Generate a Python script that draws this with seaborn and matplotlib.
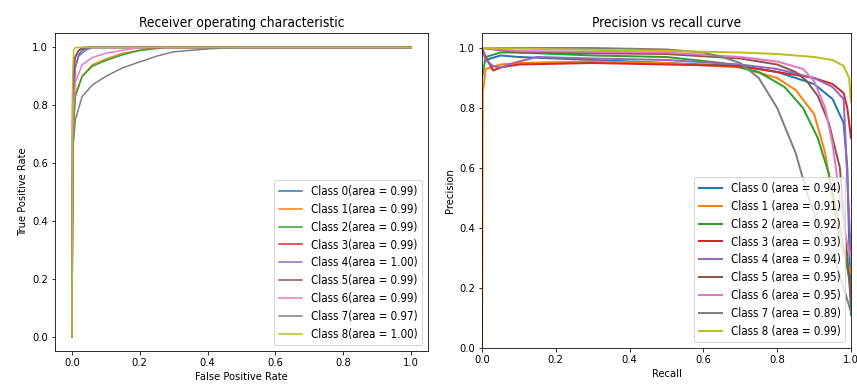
import matplotlib
matplotlib.use("Agg")
import matplotlib.pyplot as plt
from matplotlib import font_manager as fm
import seaborn as sns

roc_auc = [0.99, 0.99, 0.99, 0.99, 1.00, 0.99, 0.99, 0.97, 1.00]
pr_auc = [0.94, 0.91, 0.92, 0.93, 0.94, 0.95, 0.95, 0.89, 0.99]

# ROC curves: false positive rate / true positive rate per class
roc_fpr = [
    [0, 0.002, 0.005, 0.01, 0.02, 0.03, 0.05, 1.0],
    [0, 0.003, 0.01, 0.03, 0.06, 0.10, 0.15, 0.20, 0.25, 1.0],
    [0, 0.003, 0.01, 0.03, 0.06, 0.10, 0.15, 0.20, 0.28, 1.0],
    [0, 0.002, 0.006, 0.01, 0.02, 0.03, 1.0],
    [0, 0.003, 0.01, 0.02, 0.04, 0.06, 1.0],
    [0, 0.002, 0.008, 0.02, 0.04, 1.0],
    [0, 0.003, 0.01, 0.03, 0.06, 0.10, 0.15, 0.20, 1.0],
    [0, 0.003, 0.01, 0.03, 0.06, 0.10, 0.15, 0.20, 0.25, 0.30, 0.40, 0.50, 1.0],
    [0, 0.002, 0.005, 0.01, 1.0],
]
roc_tpr = [
    [0, 0.70, 0.85, 0.93, 0.975, 0.99, 1.0, 1.0],
    [0, 0.70, 0.84, 0.90, 0.94, 0.96, 0.98, 0.99, 1.0, 1.0],
    [0, 0.70, 0.83, 0.90, 0.935, 0.955, 0.975, 0.99, 1.0, 1.0],
    [0, 0.80, 0.93, 0.97, 0.99, 1.0, 1.0],
    [0, 0.80, 0.93, 0.97, 0.99, 1.0, 1.0],
    [0, 0.85, 0.96, 0.99, 1.0, 1.0],
    [0, 0.75, 0.88, 0.94, 0.965, 0.98, 0.99, 1.0, 1.0],
    [0, 0.65, 0.75, 0.83, 0.87, 0.90, 0.93, 0.95, 0.97, 0.985, 0.995, 1.0, 1.0],
    [0, 0.90, 0.99, 1.0, 1.0],
]

# Precision-recall curves per class
pr_recall = [
    [0, 0.01, 0.05, 0.10, 0.30, 0.50, 0.70, 0.80, 0.85, 0.90, 0.95, 0.98, 0.99, 1.0],
    [0, 0.002, 0.01, 0.05, 0.10, 0.30, 0.50, 0.70, 0.80, 0.85, 0.90, 0.93, 0.95, 0.97, 1.0],
    [0, 0.01, 0.05, 0.10, 0.30, 0.50, 0.65, 0.75, 0.82, 0.87, 0.91, 0.94, 0.97, 1.0],
    [0, 0.01, 0.03, 0.05, 0.10, 0.30, 0.50, 0.70, 0.80, 0.90, 0.95, 0.98, 0.99, 1.0],
    [0, 0.01, 0.03, 0.05, 0.10, 0.15, 0.30, 0.50, 0.70, 0.80, 0.90, 0.95, 0.98, 1.0],
    [0, 0.10, 0.50, 0.70, 0.80, 0.85, 0.88, 0.91, 0.94, 0.97, 1.0],
    [0, 0.10, 0.50, 0.70, 0.80, 0.87, 0.90, 0.93, 0.95, 0.97, 0.98, 1.0],
    [0, 0.30, 0.50, 0.60, 0.65, 0.70, 0.75, 0.80, 0.85, 0.88, 0.92, 0.96, 1.0],
    [0, 0.50, 0.70, 0.80, 0.90, 0.95, 0.98, 0.995, 1.0],
]
pr_precision = [
    [1.0, 0.96, 0.975, 0.97, 0.96, 0.95, 0.94, 0.92, 0.90, 0.88, 0.83, 0.75, 0.60, 0.11],
    [0.0, 0.85, 0.93, 0.945, 0.95, 0.955, 0.95, 0.935, 0.90, 0.86, 0.78, 0.65, 0.50, 0.35, 0.25],
    [0.90, 0.97, 0.985, 0.985, 0.975, 0.97, 0.95, 0.92, 0.87, 0.80, 0.70, 0.58, 0.40, 0.20],
    [1.0, 0.97, 0.925, 0.935, 0.945, 0.95, 0.945, 0.94, 0.92, 0.90, 0.88, 0.85, 0.80, 0.70],
    [1.0, 0.96, 0.94, 0.935, 0.955, 0.97, 0.965, 0.96, 0.945, 0.93, 0.90, 0.87, 0.83, 0.30],
    [1.0, 0.985, 0.98, 0.965, 0.945, 0.92, 0.89, 0.84, 0.75, 0.60, 0.15],
    [1.0, 0.99, 0.985, 0.97, 0.955, 0.93, 0.89, 0.80, 0.68, 0.50, 0.40, 0.30],
    [1.0, 1.0, 0.995, 0.985, 0.97, 0.95, 0.90, 0.80, 0.65, 0.52, 0.38, 0.28, 0.12],
    [1.0, 0.99, 0.985, 0.98, 0.97, 0.96, 0.94, 0.90, 0.82],
]

colors = sns.color_palette("tab10", 9)
ticks = [0.0, 0.2, 0.4, 0.6, 0.8, 1.0]

# Condensed text for titles and legends when the condensed face is installed
cond_path = fm.findfont(fm.FontProperties(family="DejaVu Sans", stretch="condensed"))
if "Condensed" in cond_path:
    title_fp = fm.FontProperties(fname=cond_path, size=13.8)
    leg_fp = fm.FontProperties(fname=cond_path, size=11.5)
    leg_spacing = 0.42
else:
    title_fp = fm.FontProperties(family="DejaVu Sans", size=12.5)
    leg_fp = fm.FontProperties(family="DejaVu Sans", size=10.3)
    leg_spacing = 0.65

fig = plt.figure(figsize=(857 / 72, 389 / 72), dpi=72)
ax1 = fig.add_axes([55 / 857, 38 / 389, 373 / 857, 318 / 389])
ax2 = fig.add_axes([482 / 857, 41 / 389, 369 / 857, 315 / 389])

for i in range(9):
    sns.lineplot(x=roc_fpr[i], y=roc_tpr[i], ax=ax1, color=colors[i], sort=False,
                 estimator=None, linewidth=1.5,
                 label=f"Class {i}(area = {roc_auc[i]:.2f})")
ax1.set_xticks(ticks)
ax1.set_yticks(ticks)
ax1.set_xlabel("False Positive Rate")
ax1.set_ylabel("True Positive Rate")
ax1.set_title("Receiver operating characteristic", fontproperties=title_fp)
ax1.legend(loc="lower right", prop=leg_fp, labelspacing=leg_spacing)

for i in range(9):
    sns.lineplot(x=pr_recall[i], y=pr_precision[i], ax=ax2, color=colors[i], sort=False,
                 estimator=None, linewidth=2,
                 label=f"Class {i} (area = {pr_auc[i]:.2f})")
ax2.set_xlim(0, 1)
ax2.set_ylim(0, 1.05)
ax2.set_xticks(ticks)
ax2.set_yticks(ticks)
ax2.set_xlabel("Recall")
ax2.set_ylabel("Precision")
ax2.set_title("Precision vs recall curve", fontproperties=title_fp)
ax2.legend(loc="lower right", prop=leg_fp, labelspacing=leg_spacing)

fig.savefig("out.png", dpi=72)
